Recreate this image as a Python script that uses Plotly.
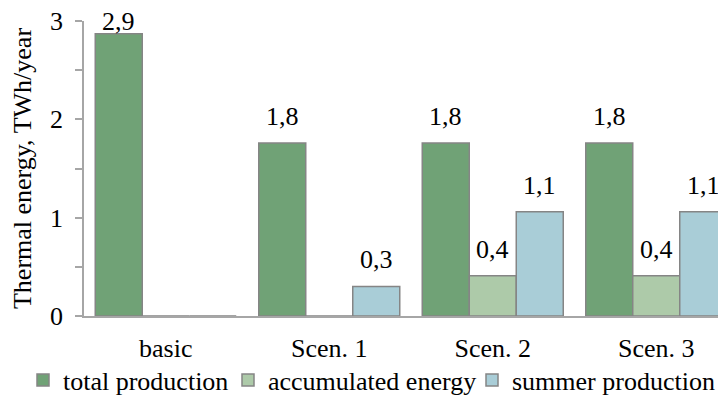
import plotly.graph_objects as go

categories = ["basic", "Scen. 1", "Scen. 2", "Scen. 3"]
total_production = [2.87, 1.76, 1.76, 1.76]
accumulated_energy = [0, 0, 0.41, 0.41]
summer_production = [0, 0.3, 1.06, 1.06]
series_names = ["total production", "accumulated energy", "summer production"]
series_colors = ["#70a276", "#adcaa9", "#a9cdd7"]
y_ticks = [0, 1, 2, 3]

FONT = "Liberation Serif"
series_values = [total_production, accumulated_energy, summer_production]
legend_widths = [160, 199, 202]

bargap = 1 - 3 * 47 / 163.5
bar_w = (1 - bargap) / 3

fig = go.Figure()
for name, vals, col, lw in zip(series_names, series_values, series_colors, legend_widths):
    fig.add_trace(go.Bar(
        name=name, x=categories, y=vals, legendwidth=lw,
        marker=dict(color=col, line=dict(color="#858585", width=1.5)),
    ))

annotations = []
for j, vals in enumerate(series_values):
    for i, v in enumerate(vals):
        if not v:
            continue
        annotations.append(dict(
            x=i + (j - 1) * bar_w, y=min(v + 0.27, 3.0), xref="x", yref="y",
            text=f"{v:.1f}".replace(".", ","), showarrow=False,
            yanchor="middle", xanchor="center",
            font=dict(family=FONT, size=26, color="black"),
        ))

# page body has an 8px default margin; figure is offset to compensate.
# The plot area runs past the right edge of the window, as in the reference.
W, H = 800, 387
fig.update_layout(
    width=W, height=H,
    margin=dict(l=76, r=0, t=13, b=79, autoexpand=False),
    paper_bgcolor="white", plot_bgcolor="white",
    barmode="group", bargap=bargap, bargroupgap=0,
    font=dict(family=FONT, size=26, color="black"),
    annotations=annotations,
    showlegend=True,
    legend=dict(
        orientation="h", xref="container", yref="container",
        x=15 / W, xanchor="left", y=15 / H, yanchor="middle",
        font=dict(family=FONT, size=26, color="black"),
        itemwidth=30, tracegroupgap=0, bgcolor="rgba(0,0,0,0)",
    ),
)

fig.update_xaxes(
    range=[-0.5, -0.5 + (W - 76) / 163.5], showline=True, linecolor="#a6a6a6", linewidth=1.5,
    ticks="", showgrid=False, zeroline=False, ticklabelstandoff=8, automargin=False,
    tickfont=dict(family=FONT, size=26, color="black"),
)
fig.update_yaxes(
    range=[0, 3], tickvals=y_ticks, ticktext=[str(t) for t in y_ticks],
    showline=True, linecolor="#a6a6a6", linewidth=1.5,
    ticks="outside", ticklen=7, tickcolor="#a6a6a6", tickwidth=1.5,
    minor=dict(dtick=0.5, ticks="outside", ticklen=7, tickcolor="#a6a6a6", tickwidth=1.5),
    showgrid=False, zeroline=False, ticklabelstandoff=7, automargin=False,
    ticklabeloverflow="allow",
    tickfont=dict(family=FONT, size=26, color="black"),
    title=dict(text="Thermal energy, TWh/year", standoff=14,
               font=dict(family=FONT, size=26, color="black")),
)

fig.write_html("out.html")
